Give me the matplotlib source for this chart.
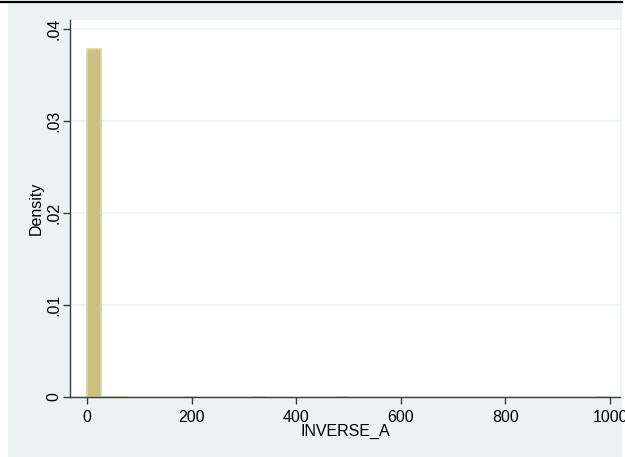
"""
Stata-style density histogram of INVERSE_A
"""
import matplotlib.pyplot as plt
from matplotlib.patches import Rectangle
from matplotlib.lines import Line2D

# bin index (38 bins over 0..1000) and density of the non-empty bins
bin_width = 1000 / 38
bin_index = [0, 1, 2, 7, 12, 18, 37]
density = [0.0379, 0.00003, 0.00002, 0.00001, 0.00001, 0.00001, 0.00001]

x_ticks = [0, 200, 400, 600, 800, 1000]
y_ticks = [0, 0.01, 0.02, 0.03, 0.04]
y_labels = ["0", ".01", ".02", ".03", ".04"]

bg = "#EAF2F3"
bar_fill = "#C9C17F"
bar_edge = "#D9D4A4"
axis_col = "#3C3C3C"

plt.rcParams["font.family"] = ["Liberation Sans", "DejaVu Sans"]

W, H = 625, 457
fig = plt.figure(figsize=(W / 100, H / 100), dpi=100)
fig.patch.set_facecolor("white")

# outer graph region and the thin black rule on top
fig.patches.append(Rectangle((8 / W, 0), 614 / W, 1 - 3 / H, transform=fig.transFigure,
                             facecolor=bg, edgecolor="none", zorder=-10))
fig.lines.append(Line2D([0, 622 / W], [1 - 2 / H, 1 - 2 / H], transform=fig.transFigure,
                        color="black", lw=1.6))

ax = fig.add_axes([70 / W, (H - 397) / H, 550 / W, 377 / H])
ax.set_facecolor("white")

lefts = [i * bin_width for i in bin_index]
ax.bar(lefts, density, width=bin_width, align="edge", color=bar_fill,
       edgecolor=bar_edge, linewidth=1.2, zorder=3)

ax.set_xlim(-32.5, 1019)
ax.set_ylim(0, 0.041)

ax.set_xticks(x_ticks)
ax.set_yticks(y_ticks)
ax.set_yticklabels(y_labels, rotation=90, va="center")
ax.tick_params(axis="both", direction="out", length=5, width=1, color=axis_col,
               labelsize=11.5, labelcolor="black")
ax.tick_params(axis="x", pad=4)
ax.tick_params(axis="y", pad=1)

ax.grid(axis="y", color=bg, lw=1.3, zorder=0)
ax.grid(axis="x", visible=False)

for side in ["top", "right"]:
    ax.spines[side].set_visible(False)
for side in ["left", "bottom"]:
    ax.spines[side].set_color(axis_col)
    ax.spines[side].set_linewidth(1)
    ax.spines[side].set_zorder(4)

ax.set_xlabel("INVERSE_A", fontsize=11.5, va="center")
ax.xaxis.set_label_coords(0.5, -34 / 377)
ax.set_ylabel("Density", fontsize=11.5, labelpad=2)

fig.savefig("out.png", dpi=100, facecolor=fig.get_facecolor())
